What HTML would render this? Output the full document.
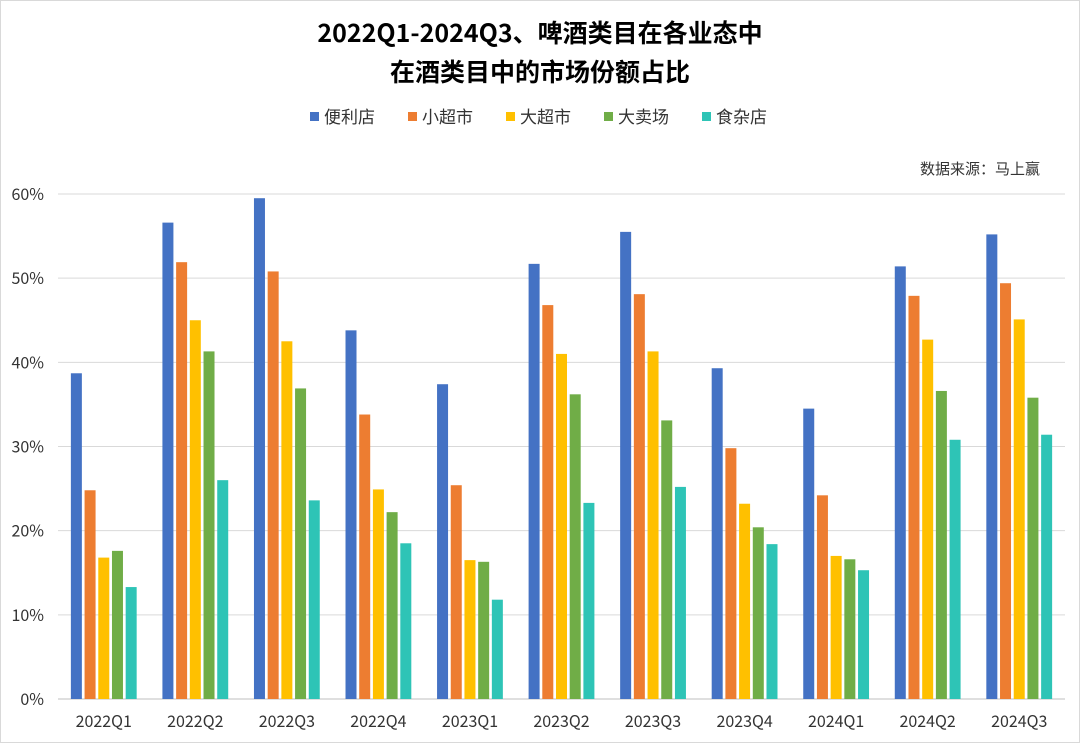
<!DOCTYPE html>
<html><head><meta charset="utf-8"><style>
body{margin:0;background:#fff;}
svg{display:block;font-family:"Noto Sans CJK SC","Liberation Sans",sans-serif;}
</style></head><body>
<svg id="c" width="1080" height="743">
<rect x="0.5" y="0.5" width="1079" height="742" fill="#fff" stroke="#d9d9d9"/>
<text x="540" y="42" text-anchor="middle" font-size="25" font-weight="bold" fill="#000">2022Q1-2024Q3、啤酒类目在各业态中</text>
<text x="540" y="81" text-anchor="middle" font-size="25" font-weight="bold" fill="#000">在酒类目中的市场份额占比</text>
<text x="1040" y="174" text-anchor="end" font-size="15" fill="#333">数据来源：马上赢</text>
<g id="legend"></g>
<g id="grid"></g>
<g id="bars"></g>
<g id="axes"></g>
</svg>
<script>
const categories=["2022Q1","2022Q2","2022Q3","2022Q4","2023Q1","2023Q2","2023Q3","2023Q4","2024Q1","2024Q2","2024Q3"];
const seriesNames=["便利店","小超市","大超市","大卖场","食杂店"];
const conv=[38.7,56.6,59.5,43.8,37.4,51.7,55.5,39.3,34.5,51.4,55.2];
const smallMkt=[24.8,51.9,50.8,33.8,25.4,46.8,48.1,29.8,24.2,47.9,49.4];
const superMkt=[16.8,45.0,42.5,24.9,16.5,41.0,41.3,23.2,17.0,42.7,45.1];
const hyperMkt=[17.6,41.3,36.9,22.2,16.3,36.2,33.1,20.4,16.6,36.6,35.8];
const grocery=[13.3,26.0,23.6,18.5,11.8,23.3,25.2,18.4,15.3,30.8,31.4];
const yTicks=[0,10,20,30,40,50,60];
const series=[conv,smallMkt,superMkt,hyperMkt,grocery];
const colors=["#4472C4","#ED7D31","#FFC000","#70AD47","#2EC4B6"];
const NS="http://www.w3.org/2000/svg";
const L=58,R=1065,T=194,B=699,maxV=60;
const y=v=>B-(v/maxV)*(B-T);
const gw=(R-L)/categories.length;
const x=i=>L+gw*i;
function mk(t,a,p){const e=document.createElementNS(NS,t);for(const k in a)e.setAttribute(k,a[k]);p.appendChild(e);return e;}
const grid=document.getElementById('grid'),bars=document.getElementById('bars'),axes=document.getElementById('axes'),leg=document.getElementById('legend');
yTicks.forEach(v=>{
 const l=mk('line',{x1:L,x2:R,y1:y(v),y2:y(v),stroke:v===0?'#bfbfbf':'#d9d9d9','stroke-width':1},grid);
 
 
 const t=mk('text',{x:L-14,y:y(v)+6,'text-anchor':'end','font-size':16,fill:'#333'},axes);
 t.textContent=v+'%';
 
 
});
const bw=11,step=13.7;
categories.forEach((c,i)=>{
 const cx=x(i)+gw/2;
 series.forEach((s,j)=>{
  const bx=cx+(j-2)*step-bw/2;
  const r=mk('rect',{x:bx,y:y(s[i]),width:bw,height:B-y(s[i]),fill:colors[j]},bars);
  
  
 });
 const t=mk('text',{x:cx,y:727,'text-anchor':'middle','font-size':16,fill:'#333'},axes);
 t.textContent=c;
 
 
});
const lx=[310,408,506,604,702];
seriesNames.forEach((n,j)=>{
 const g=mk('g',{},leg);
 
 
 mk('rect',{x:lx[j],y:112,width:9,height:9,fill:colors[j]},g);
 const t=mk('text',{x:lx[j]+14,y:123,'font-size':17,fill:'#333'},g);
 t.textContent=n;
});
</script>
</body></html>
